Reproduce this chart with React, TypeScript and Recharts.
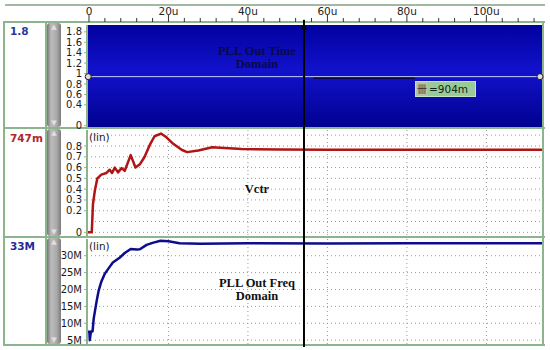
import React from "react";
import {
  ComposedChart,
  Area,
  Line,
  XAxis,
  YAxis,
  CartesianGrid,
  ReferenceLine,
  ReferenceDot,
} from "recharts";

// time axis (u = microseconds)
const timeTicks = [0, 4, 8, 12, 16, 20, 24, 28, 32, 36, 40, 44, 48, 52, 56, 60, 64, 68, 72, 76, 80, 84, 88, 92, 96, 100, 104, 108, 112];
const timeLabels = [0, 20, 40, 60, 80, 100];
const timeGrid = [20, 40, 60, 80, 100];
const cursorTime = 54.1;

// PLL out, time domain (dense clock, drawn as a band)
const clockTime = [-0.5, 114];
const clockLow = [-0.1, -0.1];
const clockHigh = [2.0, 2.0];
const clockTicks = [0, 0.4, 0.6, 0.8, 1, 1.2, 1.4, 1.6, 1.8];
const clockMid = 0.94;
const markerLevel = 0.91;

// Vctr
const vctrTime = [-0.5, 0.7, 1.0, 1.45, 2.1, 3.1, 4.4, 5.2, 5.8, 6.5, 7.3, 8.2, 9.0, 10.5, 11.7, 12.8, 14.0, 15.3, 16.5, 18.1, 19.5, 21.2, 23.3, 24.7, 27.5, 31.0, 34.2, 38.4, 48, 60, 80, 100, 114];
const vctrValue = [0, 0, 0.26, 0.38, 0.5, 0.535, 0.55, 0.58, 0.55, 0.6, 0.555, 0.595, 0.57, 0.715, 0.6, 0.63, 0.7, 0.81, 0.89, 0.915, 0.88, 0.82, 0.765, 0.743, 0.758, 0.788, 0.782, 0.772, 0.768, 0.766, 0.766, 0.766, 0.766];
const vctrTicks = [0, 0.2, 0.3, 0.4, 0.5, 0.6, 0.7, 0.8];
const vctrGrid = [0, 0.1, 0.2, 0.3, 0.4, 0.5, 0.6, 0.7, 0.8, 0.9];

// PLL out, frequency domain (MHz)
const freqTime = [-0.5, 0.1, 0.2, 0.5, 0.9, 1.2, 1.9, 2.4, 3.1, 4.0, 5.2, 6.0, 7.7, 9.0, 10.5, 12.0, 12.8, 14.5, 16.0, 18.0, 20.0, 22.8, 28, 40, 60, 80, 100, 114];
const freqValue = [7.5, 7.5, 5.0, 7.6, 7.6, 11.5, 16.4, 19.5, 22.3, 24.7, 26.7, 28.0, 29.4, 30.8, 32.0, 31.8, 31.9, 33.2, 33.8, 34.4, 34.3, 33.7, 33.5, 33.7, 33.6, 33.7, 33.7, 33.7];
const freqTicks = [5, 10, 15, 20, 25, 30];

const clockData = clockTime.map((t, i) => ({ t, band: [clockLow[i], clockHigh[i]] }));
const vctrData = vctrTime.map((t, i) => ({ t, v: vctrValue[i] }));
const freqData = freqTime.map((t, i) => ({ t, f: freqValue[i] }));

const GREEN = "#8db58d";
const FONT = "DejaVu Sans, sans-serif";
const X_DOMAIN: [number, number] = [-0.5, 114];

const RulerTick = (props: any) => {
  const { x, y, payload } = props;
  const major = timeLabels.includes(payload.value);
  return (
    <g>
      <line x1={x} x2={x} y1={y - (major ? 10 : 7)} y2={y - 3} stroke="#333" strokeWidth={1} />
      {major && (
        <text x={x} y={y - 10} textAnchor="middle" fontSize={10.5} fontFamily={FONT} fill="#222">
          {payload.value === 0 ? "0" : `${payload.value}u`}
        </text>
      )}
    </g>
  );
};

const yAxisProps = {
  width: 87,
  tickSize: 3,
  tickMargin: 2,
  interval: 0 as const,
  allowDataOverflow: true,
  axisLine: { stroke: GREEN, strokeWidth: 2 },
  tickLine: { stroke: GREEN },
  tick: { fill: "#1a1a1a", fontSize: 10, fontFamily: FONT },
};

const Scrollbar = ({ top, height }: { top: number; height: number }) => (
  <div
    style={{
      position: "absolute",
      left: 47,
      top,
      width: 14,
      height,
      borderRadius: 3,
      background: "linear-gradient(to right, #757575, #bdbdbd 30%, #a9a9a9 70%, #7a7a7a)",
      color: "#e0e0e0",
      fontSize: 7,
      textAlign: "center",
      lineHeight: "8px",
    }}
  >
    <div>▲</div>
    <div style={{ position: "absolute", bottom: 0, width: "100%" }}>▼</div>
  </div>
);

const hLine = (top: number) => (
  <div style={{ position: "absolute", left: 3, top, width: 542, height: 2, background: GREEN }} />
);
const vLine = (left: number, top: number, height: number) => (
  <div style={{ position: "absolute", left, top, width: 2, height, background: GREEN }} />
);

const valueLabel = (text: string, top: number, color: string) => (
  <div style={{ position: "absolute", left: 10, top, fontSize: 10.5, fontWeight: "bold", fontFamily: FONT, color }}>
    {text}
  </div>
);

const serifLabel = (lines: string[], top: number, color: string) => (
  <div
    style={{
      position: "absolute",
      left: 187,
      top,
      width: 140,
      textAlign: "center",
      fontFamily: "Liberation Serif, serif",
      fontWeight: "bold",
      fontSize: 12.5,
      lineHeight: "13px",
      color,
    }}
  >
    {lines.map((l) => (
      <div key={l}>{l}</div>
    ))}
  </div>
);

const linLabel = (top: number) => (
  <div style={{ position: "absolute", left: 89, top, fontSize: 10.5, fontFamily: FONT, color: "#222" }}>(lin)</div>
);

export default function App() {
  return (
    <div style={{ position: "absolute", left: 0, top: 0, width: 550, height: 350, background: "#fff", fontFamily: FONT }}>
      {/* frame */}
      <div style={{ position: "absolute", left: 5, top: 4, width: 540, height: 2, background: "#a3b8a3" }} />
      {hLine(21)}
      {hLine(127)}
      {hLine(236)}
      {hLine(344)}
      {vLine(3, 21, 325)}
      {vLine(45, 21, 325)}
      {vLine(542, 21, 325)}
      <Scrollbar top={23} height={104} />
      <Scrollbar top={129} height={107} />
      <Scrollbar top={238} height={106} />
      {valueLabel("1.8", 25, "#2838a0")}
      {valueLabel("747m", 132, "#b02828")}
      {valueLabel("33M", 240, "#28289a")}

      {/* panel 1: time domain */}
      <div style={{ position: "absolute", left: 0, top: 0 }}>
        <ComposedChart width={550} height={133} data={clockData} margin={{ top: 0, right: 8, bottom: 6, left: 0 }}>
          <defs>
            <linearGradient id="clk" x1="0" y1="0" x2="0" y2="1">
              <stop offset="0%" stopColor="#00009c" />
              <stop offset="45%" stopColor="#1212cc" />
              <stop offset="100%" stopColor="#00008c" />
            </linearGradient>
          </defs>
          <XAxis
            type="number"
            dataKey="t"
            orientation="top"
            domain={X_DOMAIN}
            allowDataOverflow
            ticks={timeTicks}
            interval={0}
            height={25}
            tickSize={0}
            tickMargin={0}
            axisLine={false}
            tickLine={false}
            tick={RulerTick}
          />
          <YAxis type="number" domain={[-0.025, 1.93]} ticks={clockTicks} {...yAxisProps} />
          <Area dataKey="band" type="linear" stroke="none" fill="url(#clk)" fillOpacity={1} isAnimationActive={false} />
          <ReferenceLine y={clockMid} stroke="#c8d0ff" strokeWidth={1} />
          <ReferenceLine
            segment={[{ x: 56.5, y: markerLevel }, { x: 82, y: markerLevel }]}
            stroke="#0a0a3a"
            strokeWidth={1.5}
          />
          <ReferenceDot x={-0.2} y={clockMid} r={3} fill="#ddd" stroke="#222" ifOverflow="visible" />
          <ReferenceDot x={113.5} y={clockMid} r={3} fill="#ddd" stroke="#222" ifOverflow="visible" />
          <ReferenceLine
            segment={[{ x: cursorTime, y: -0.05 }, { x: cursorTime, y: 2.03 }]}
            stroke="#000"
            strokeWidth={2}
            ifOverflow="visible"
          />
          <ReferenceDot x={cursorTime} y={1.88} r={2.5} fill="#000" stroke="none" />
        </ComposedChart>
      </div>

      {/* panel 2: Vctr */}
      <div style={{ position: "absolute", left: 0, top: 127 }}>
        <ComposedChart width={550} height={111} data={vctrData} margin={{ top: 3, right: 8, bottom: 2, left: 0 }}>
          <XAxis type="number" dataKey="t" domain={X_DOMAIN} allowDataOverflow hide />
          <YAxis type="number" domain={[-0.034, 0.948]} ticks={vctrTicks} {...yAxisProps} />
          <CartesianGrid
            stroke="#9a9a9a"
            strokeDasharray="1 3"
            horizontalValues={vctrGrid}
            verticalValues={timeGrid}
          />
          <Line
            dataKey="v"
            type="linear"
            stroke="#b01414"
            strokeWidth={2.5}
            strokeLinejoin="round"
            dot={false}
            isAnimationActive={false}
          />
          <ReferenceLine
            segment={[{ x: cursorTime, y: -0.2 }, { x: cursorTime, y: 1.1 }]}
            stroke="#000"
            strokeWidth={2}
            ifOverflow="visible"
          />
        </ComposedChart>
      </div>

      {/* panel 3: frequency */}
      <div style={{ position: "absolute", left: 0, top: 236 }}>
        <ComposedChart width={550} height={111} data={freqData} margin={{ top: 3, right: 8, bottom: 3, left: 0 }}>
          <XAxis type="number" dataKey="t" domain={X_DOMAIN} allowDataOverflow hide />
          <YAxis
            type="number"
            domain={[3.87, 34.94]}
            ticks={freqTicks}
            tickFormatter={(v: number) => `${v}M`}
            {...yAxisProps}
          />
          <CartesianGrid
            stroke="#9a9a9a"
            strokeDasharray="1 3"
            horizontalValues={freqTicks}
            verticalValues={timeGrid}
          />
          <Line
            dataKey="f"
            type="linear"
            stroke="#0c0c8c"
            strokeWidth={2.5}
            strokeLinejoin="round"
            dot={false}
            isAnimationActive={false}
          />
          <ReferenceLine
            segment={[{ x: cursorTime, y: 0 }, { x: cursorTime, y: 40 }]}
            stroke="#000"
            strokeWidth={2}
            ifOverflow="visible"
          />
        </ComposedChart>
      </div>

      {/* annotations */}
      {serifLabel(["PLL Out Time", "Domain"], 45, "#0a0a48")}
      {serifLabel(["Vctr"], 183, "#111")}
      {serifLabel(["PLL Out Freq", "Domain"], 277, "#111")}
      {linLabel(131)}
      {linLabel(240)}
      <div
        style={{
          position: "absolute",
          left: 415,
          top: 81,
          width: 59,
          height: 14,
          background: "#98cb98",
          border: "1px solid #c4e4c4",
          display: "flex",
          alignItems: "center",
          fontSize: 10.5,
          fontFamily: FONT,
          color: "#152515",
        }}
      >
        <span
          style={{
            background: "#adc4ad",
            color: "#333",
            fontFamily: "Noto Sans CJK SC",
            fontSize: 10,
            padding: "0 1px",
            marginRight: 1,
            height: 14,
            lineHeight: "14px",
          }}
        >
          卌
        </span>
        =904m
      </div>
    </div>
  );
}
